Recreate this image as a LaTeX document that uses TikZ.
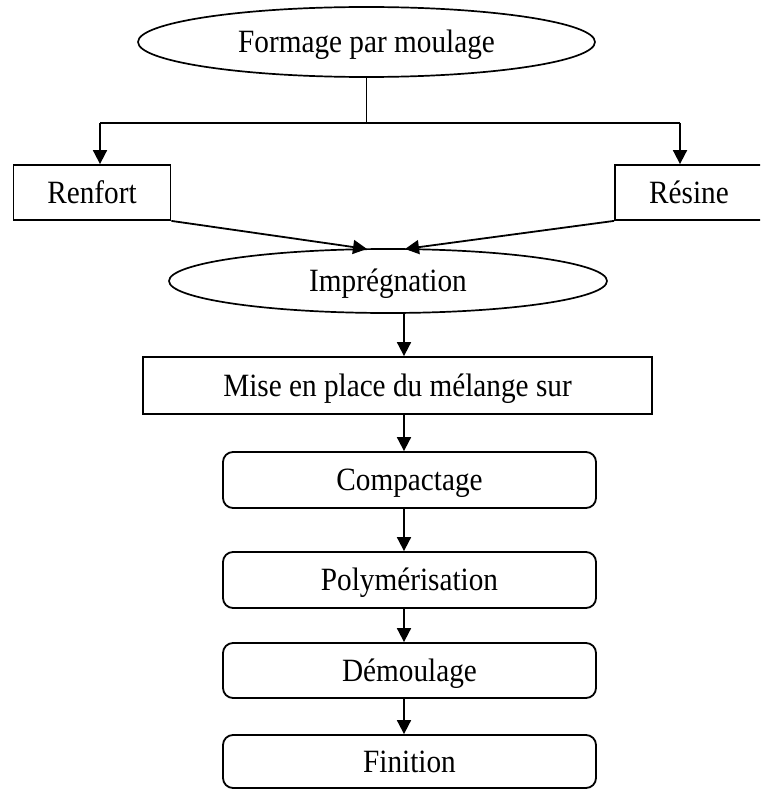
\documentclass[tikz,border=0pt]{standalone}
\usepackage{fontspec}
\setmainfont{Liberation Serif}[FakeStretch=0.9]
\usetikzlibrary{shapes.geometric,arrows.meta}

\tikzset{
  every node/.style={font=\fontsize{32.5}{38}\selectfont, inner sep=0pt,
                     text height=23pt, text depth=2pt},
  oval/.style={draw, ellipse, line width=1.7pt},
  plainbox/.style={draw, rectangle, line width=1.8pt},
  roundbox/.style={draw, rectangle, rounded corners=10pt, line width=1.8pt,
                   minimum width=373pt, minimum height=56pt},
  link/.style={line width=1.8pt},
  thinlink/.style={line width=1.1pt},
  arrow/.style={line width=1.8pt, -{Triangle[length=14pt,width=14pt]}},
}

\begin{document}
\begin{tikzpicture}[x=1pt, y=-1pt]
  \useasboundingbox (0,0) rectangle (760,789);
  \clip (0,0) rectangle (760,789);

  % main process
  \node[oval, minimum width=457pt, minimum height=70pt] (formage) at (366.5,42) {Formage par moulage};

  % the two raw materials
  \node[plainbox, minimum width=157pt, minimum height=55pt] (renfort) at (92,192.5) {Renfort};
  \node[plainbox, minimum width=148pt, minimum height=55pt] (resine) at (689,192.5) {Résine};

  % mixing step
  \node[oval, minimum width=438pt, minimum height=64pt] (impregnation) at (388,281) {Imprégnation};

  % moulding sequence
  \node[plainbox, minimum width=509pt, minimum height=57pt] (mise) at (397.5,385.5) {Mise en place du mélange sur};
  \node[roundbox] (compactage) at (409.5,480) {Compactage};
  \node[roundbox] (polym) at (409.5,580) {Polymérisation};
  \node[roundbox, minimum height=55pt] (demoulage) at (409.5,670.5) {Démoulage};
  \node[roundbox, minimum height=53pt] (finition) at (409.5,761.5) {Finition};

  % branching points and arrow columns
  \coordinate (forkL) at (100,123);
  \coordinate (forkR) at (680,123);
  \coordinate (inL) at (367,249);
  \coordinate (inR) at (405,249);
  \coordinate (spine) at (404,0);

  % split into reinforcement and resin
  \draw[thinlink] (formage.south) -- (formage.south |- forkL);
  \draw[link] (forkL) -- (forkR);
  \draw[arrow] (forkL) -- (forkL |- renfort.north);
  \draw[arrow] (forkR) -- (forkR |- resine.north);

  % both feed the impregnation
  \draw[arrow] (renfort.south east) -- (inL);
  \draw[arrow] (resine.south west) -- (inR);

  % vertical chain
  \draw[arrow] (spine |- impregnation.south) -- (spine |- mise.north);
  \draw[arrow] (spine |- mise.south) -- (spine |- compactage.north);
  \draw[arrow] (spine |- compactage.south) -- (spine |- polym.north);
  \draw[arrow] (spine |- polym.south) -- (spine |- demoulage.north);
  \draw[arrow] (spine |- demoulage.south) -- (spine |- finition.north);
\end{tikzpicture}
\end{document}
